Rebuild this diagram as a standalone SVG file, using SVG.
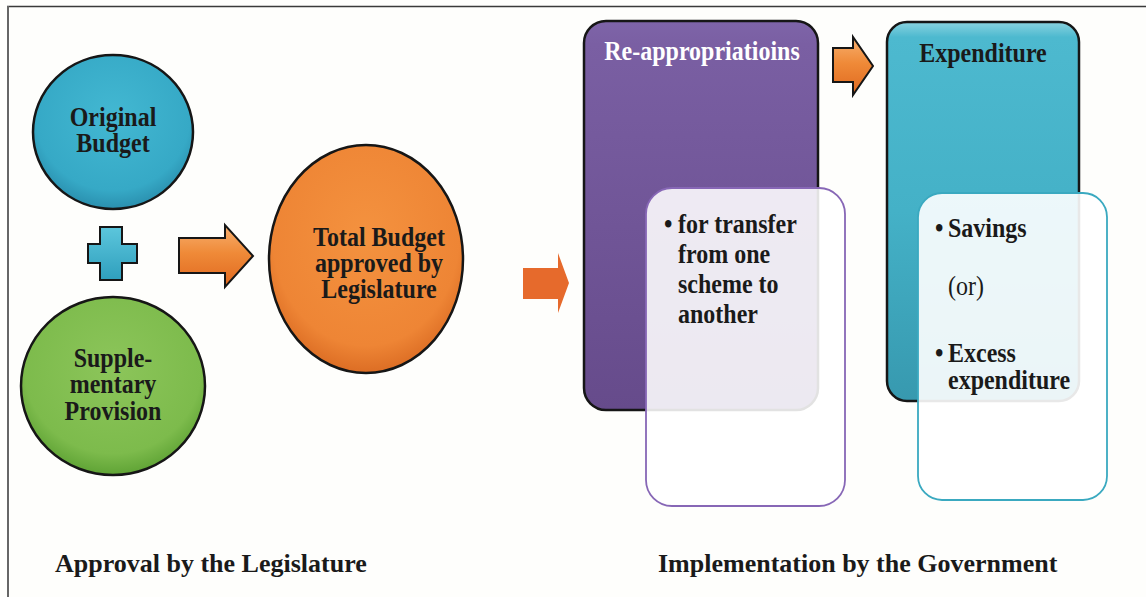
<svg xmlns="http://www.w3.org/2000/svg" width="1146" height="597" viewBox="0 0 1146 597">
  <defs>
    <radialGradient id="gTeal" cx="50%" cy="40%" r="60%">
      <stop offset="0" stop-color="#43b8d2"/>
      <stop offset="0.8" stop-color="#36a9c6"/>
      <stop offset="1" stop-color="#2a8fae"/>
    </radialGradient>
    <radialGradient id="gGreen" cx="50%" cy="40%" r="60%">
      <stop offset="0" stop-color="#8cc55a"/>
      <stop offset="0.8" stop-color="#7dbb4c"/>
      <stop offset="1" stop-color="#5fa335"/>
    </radialGradient>
    <radialGradient id="gOrange" cx="50%" cy="40%" r="60%">
      <stop offset="0" stop-color="#f4923f"/>
      <stop offset="0.8" stop-color="#ee8535"/>
      <stop offset="1" stop-color="#dc6d24"/>
    </radialGradient>
    <linearGradient id="gArrow" x1="0" y1="0" x2="0" y2="1">
      <stop offset="0" stop-color="#f8b070"/>
      <stop offset="0.45" stop-color="#ef8a38"/>
      <stop offset="1" stop-color="#e0681f"/>
    </linearGradient>
    <linearGradient id="gPlus" x1="0" y1="0" x2="0" y2="1">
      <stop offset="0" stop-color="#5cc6dc"/>
      <stop offset="1" stop-color="#2f9fbd"/>
    </linearGradient>
    <linearGradient id="gPurple" x1="0" y1="0" x2="0" y2="1">
      <stop offset="0" stop-color="#7e64a8"/>
      <stop offset="0.06" stop-color="#7a5fa3"/>
      <stop offset="1" stop-color="#664b8b"/>
    </linearGradient>
    <linearGradient id="gExp" x1="0" y1="0" x2="0" y2="1">
      <stop offset="0" stop-color="#8ad3e0"/>
      <stop offset="0.04" stop-color="#4db9cf"/>
      <stop offset="0.5" stop-color="#44b1c7"/>
      <stop offset="1" stop-color="#3799af"/>
    </linearGradient>
  </defs>
  <style>
    /* bold serif labels, slightly tall */
    .lbl { font-family: "Liberation Serif", "Times New Roman", serif; font-weight: bold; font-size: 24px; fill: #1a1a1a;
           transform-box: fill-box; transform-origin: 50% 75%; transform: scale(1, 1.1); }
    .mid { text-anchor: middle; }
    .plain { font-weight: normal; }
    .white { fill: #ffffff; }
    .cap { font-family: "Liberation Serif", "Times New Roman", serif; font-weight: bold; font-size: 26px; fill: #1a1a1a; }
    .node { stroke: #161616; stroke-width: 2.5; }
    .shape { stroke: #161616; stroke-width: 2; stroke-linejoin: miter; }
  </style>

  <!-- page background and frame -->
  <rect x="0" y="0" width="1146" height="597" fill="#fefefc"/>
  <line x1="7" y1="6.5" x2="1146" y2="6.5" stroke="#3a3a3a" stroke-width="1.5"/>
  <line x1="8" y1="6" x2="8" y2="597" stroke="#666" stroke-width="2"/>

  <!-- left half: approval -->
  <g id="original-budget">
    <ellipse class="node" cx="113" cy="132" rx="80" ry="77" fill="url(#gTeal)"/>
    <text class="lbl mid" x="113" y="126">Original</text>
    <text class="lbl mid" x="113" y="152">Budget</text>
  </g>

  <g id="plus">
    <path class="shape" d="M100,227 H122 V244 H137 V263 H122 V280 H100 V263 H88 V244 H100 Z" fill="url(#gPlus)"/>
  </g>

  <g id="supplementary-provision">
    <ellipse class="node" cx="113" cy="386" rx="92" ry="89" fill="url(#gGreen)"/>
    <text class="lbl mid" x="113" y="367">Supple-</text>
    <text class="lbl mid" x="113" y="393">mentary</text>
    <text class="lbl mid" x="113" y="420">Provision</text>
  </g>

  <g id="total-budget">
    <ellipse class="node" cx="366" cy="259" rx="97" ry="114" fill="url(#gOrange)"/>
    <text class="lbl mid" x="379" y="246">Total Budget</text>
    <text class="lbl mid" x="379" y="272">approved by</text>
    <text class="lbl mid" x="379" y="298">Legislature</text>
  </g>

  <!-- right half: implementation -->
  <g id="re-appropriations">
    <rect class="node" x="584" y="21" width="234" height="389" rx="22" fill="url(#gPurple)"/>
    <text class="lbl mid white" x="702" y="60">Re-appropriatioins</text>
    <rect x="646" y="188" width="199" height="318" rx="26" fill="#ffffff" fill-opacity="0.88" stroke="#8767b6" stroke-width="1.8"/>
    <text class="lbl" x="664" y="233">•</text>
    <text class="lbl" x="678" y="233">for transfer</text>
    <text class="lbl" x="678" y="263">from one</text>
    <text class="lbl" x="678" y="293">scheme to</text>
    <text class="lbl" x="678" y="323">another</text>
  </g>

  <g id="expenditure">
    <rect class="node" x="887" y="22" width="192" height="379" rx="20" fill="url(#gExp)"/>
    <text class="lbl mid" x="983" y="62">Expenditure</text>
    <rect x="918" y="193" width="189" height="307" rx="24" fill="#ffffff" fill-opacity="0.9" stroke="#3aa9c0" stroke-width="1.8"/>
    <text class="lbl" x="935" y="237">•</text>
    <text class="lbl" x="948" y="237">Savings</text>
    <text class="lbl plain" x="948" y="295">(or)</text>
    <text class="lbl" x="935" y="362">•</text>
    <text class="lbl" x="948" y="362">Excess</text>
    <text class="lbl" x="948" y="389">expenditure</text>
  </g>

  <!-- connectors -->
  <g id="connectors">
    <path class="shape" d="M179,238 H225 V225 L253,256 L225,287 V273 H179 Z" fill="url(#gArrow)"/>
    <path d="M523,268 H558 V253 L569,283 L558,313 V299 H523 Z" fill="#e66a2c"/>
    <path class="shape" d="M833,48 H853 V37 L873,66 L853,95 V82 H833 Z" fill="url(#gArrow)"/>
  </g>

  <!-- captions -->
  <text class="cap" x="55" y="572">Approval by the Legislature</text>
  <text class="cap" x="658" y="572">Implementation by the Government</text>
</svg>
